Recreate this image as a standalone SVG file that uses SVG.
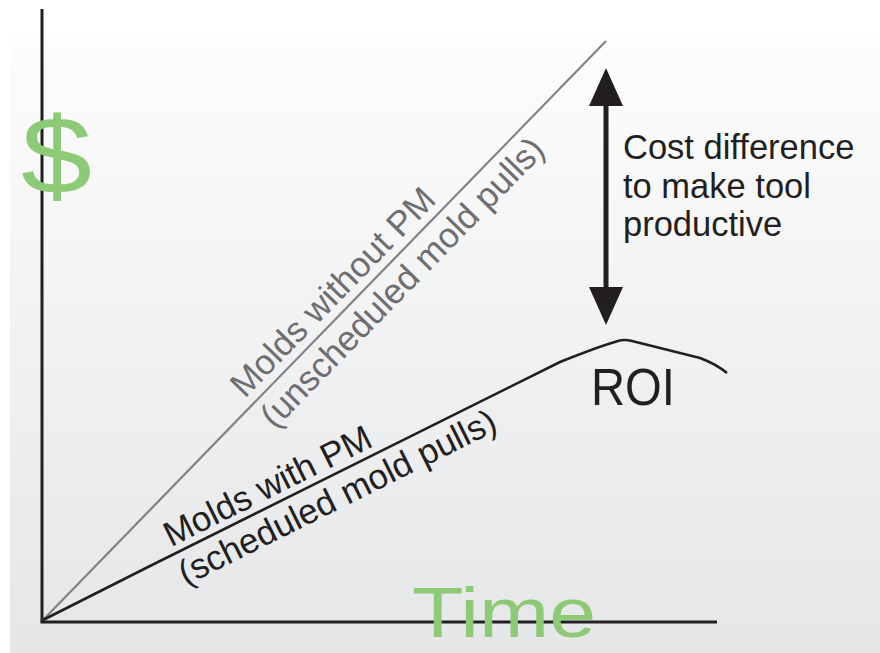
<svg xmlns="http://www.w3.org/2000/svg" width="880" height="653" viewBox="0 0 880 653">
<style>
.lbl{font-family:"Liberation Sans",Arial,sans-serif;font-size:35px;fill:#231f20}
.glbl{font-family:"Liberation Sans",Arial,sans-serif;font-size:35px;fill:#6d6e71}
.cost{font-family:"Liberation Sans",Arial,sans-serif;font-size:34.5px;fill:#231f20}
.green{font-family:"Liberation Sans",Arial,sans-serif;fill:#8dca76}
.axis{stroke:#231f20;stroke-width:3;fill:none}
</style>
<defs>
<linearGradient id="bg" x1="0" y1="0" x2="0" y2="1">
<stop offset="0" stop-color="#fdfdfd"/>
<stop offset="1" stop-color="#e5e6e8"/>
</linearGradient>
<marker id="ah" viewBox="0 0 38 34" refX="6" refY="17" markerWidth="38" markerHeight="34" markerUnits="userSpaceOnUse" orient="auto-start-reverse">
<path d="M0,0 L38,17 L0,34 z" fill="#231f20"/>
</marker>
</defs>
<rect x="0" y="0" width="880" height="653" fill="#ffffff"/>
<rect x="10" y="33" width="870" height="620" fill="url(#bg)"/>
<g id="axes">
<line class="axis" x1="42" y1="9" x2="42" y2="622"/>
<line class="axis" x1="40.5" y1="622" x2="717" y2="622"/>
</g>
<g id="connectors">
<line x1="43" y1="620" x2="606" y2="41" stroke="#808285" stroke-width="2.2"/>
<path d="M43,620 L150,566 L560,362 Q600,346 618,341 Q624,339 632,341 L700,358 Q716,364 727,373" fill="none" stroke="#231f20" stroke-width="2.6"/>
<line x1="606" y1="100" x2="606" y2="293" stroke="#231f20" stroke-width="5" marker-start="url(#ah)" marker-end="url(#ah)"/>
</g>
<g id="label-without-pm" transform="translate(43,620) rotate(-45.7)">
<text class="glbl" x="299" y="-10">Molds without PM</text>
<text class="glbl" x="298" y="33">(unscheduled mold pulls)</text>
</g>
<g id="label-with-pm" transform="translate(43,620) rotate(-26.5)">
<text class="lbl" x="147" y="-8">Molds with PM</text>
<text class="lbl" x="143" y="33">(scheduled mold pulls)</text>
</g>
<g id="cost-label">
<text class="cost" x="623" y="159">Cost difference</text>
<text class="cost" x="623" y="198">to make tool</text>
<text class="cost" x="623" y="236">productive</text>
</g>
<g id="roi">
<text class="lbl" x="591" y="405" textLength="84" lengthAdjust="spacingAndGlyphs" style="font-size:52px">ROI</text>
</g>
<g id="y-label">
<text class="green" x="21" y="194" style="font-size:110px" textLength="71" lengthAdjust="spacingAndGlyphs">$</text>
</g>
<g id="x-label">
<text class="green" x="412" y="637" style="font-size:70px" textLength="184" lengthAdjust="spacingAndGlyphs">Time</text>
</g>
</svg>
